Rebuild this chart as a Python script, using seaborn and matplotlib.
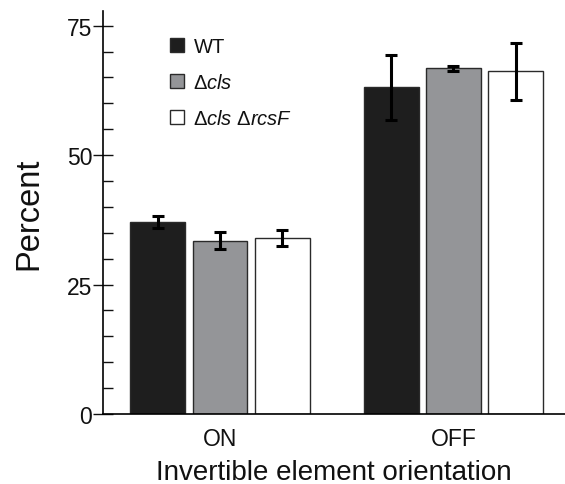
import matplotlib
matplotlib.use("Agg")
import matplotlib.pyplot as plt
from matplotlib.patches import Patch
from matplotlib.ticker import MultipleLocator
import seaborn as sns
import pandas as pd

# ---- data ----
orientations = ["ON", "OFF"]
strains = ["WT", "Δcls", "Δcls ΔrcsF"]
wt_mean = [37.1, 63.1]
wt_err = [1.2, 6.3]
cls_mean = [33.5, 66.8]
cls_err = [1.6, 0.5]
clsrcs_mean = [34.0, 66.2]
clsrcs_err = [1.5, 5.5]
strain_labels = [r"WT", r"Δ$\it{cls}$", r"Δ$\it{cls}$ Δ$\it{rcsF}$"]
colors = ["#1e1e1e", "#949598", "#ffffff"]
yticks = [0, 25, 50, 75]

sns.set_style("ticks")
plt.rcParams["font.family"] = ["Liberation Sans", "DejaVu Sans"]
plt.rcParams["mathtext.fontset"] = "custom"
plt.rcParams["mathtext.rm"] = "Liberation Sans"
plt.rcParams["mathtext.it"] = "Liberation Sans:italic"
for k in ["text.color", "axes.labelcolor", "xtick.color", "ytick.color",
          "xtick.labelcolor", "ytick.labelcolor"]:
    plt.rcParams[k] = "#111111"

means = [wt_mean, cls_mean, clsrcs_mean]
errs = [wt_err, cls_err, clsrcs_err]
rows = []
for s, m, e in zip(strains, means, errs):
    for o, mv, ev in zip(orientations, m, e):
        rows.append({"orientation": o, "strain": s, "percent": mv, "err": ev})
df = pd.DataFrame(rows)

fig = plt.figure(figsize=(5.65, 4.85), dpi=100)
ax = fig.add_axes([0.183, 0.1443, 0.817, 0.8316])

sns.barplot(data=df, x="orientation", y="percent", hue="strain",
            order=orientations, hue_order=strains, palette=colors,
            errorbar=None, width=0.8, gap=0.12, edgecolor="#2a2a2a",
            linewidth=1.0, saturation=1, legend=False, ax=ax)

for cont, s in zip(ax.containers, strains):
    sub = df[df.strain == s].set_index("orientation").loc[orientations]
    xs = [b.get_x() + b.get_width() / 2 for b in cont]
    ax.errorbar(xs, sub["percent"], yerr=sub["err"], fmt="none",
                ecolor="black", elinewidth=2.2, capsize=4, capthick=2.2,
                zorder=5)

ax.set_ylim(0, 77.9)
ax.set_xlim(-0.5, 1.478)
ax.set_yticks(yticks)
ax.yaxis.set_minor_locator(MultipleLocator(5))
ax.tick_params(axis="y", which="major", direction="inout", length=14,
               width=1.0, labelsize=16.5, pad=1)
ax.tick_params(axis="y", which="minor", direction="in", length=7, width=1.0)
ax.tick_params(axis="x", length=0, labelsize=16.5, pad=9)
for side in ["top", "right"]:
    ax.spines[side].set_visible(False)
for side in ["left", "bottom"]:
    ax.spines[side].set_linewidth(1.2)
    ax.spines[side].set_color("black")

ax.set_ylabel("Percent", fontsize=23.5, labelpad=16)
ax.set_xlabel("Invertible element orientation", fontsize=20, labelpad=6.5)

handles = [Patch(facecolor=c, edgecolor="#2a2a2a", linewidth=1.0) for c in colors]
ax.legend(handles, strain_labels, loc="upper left",
          bbox_to_anchor=(0.145, 0.935), frameon=False, fontsize=14.5,
          handlelength=0.7, handleheight=0.7, handletextpad=0.45,
          labelspacing=0.85, borderpad=0, borderaxespad=0)

fig.savefig("out.png", dpi=100)
